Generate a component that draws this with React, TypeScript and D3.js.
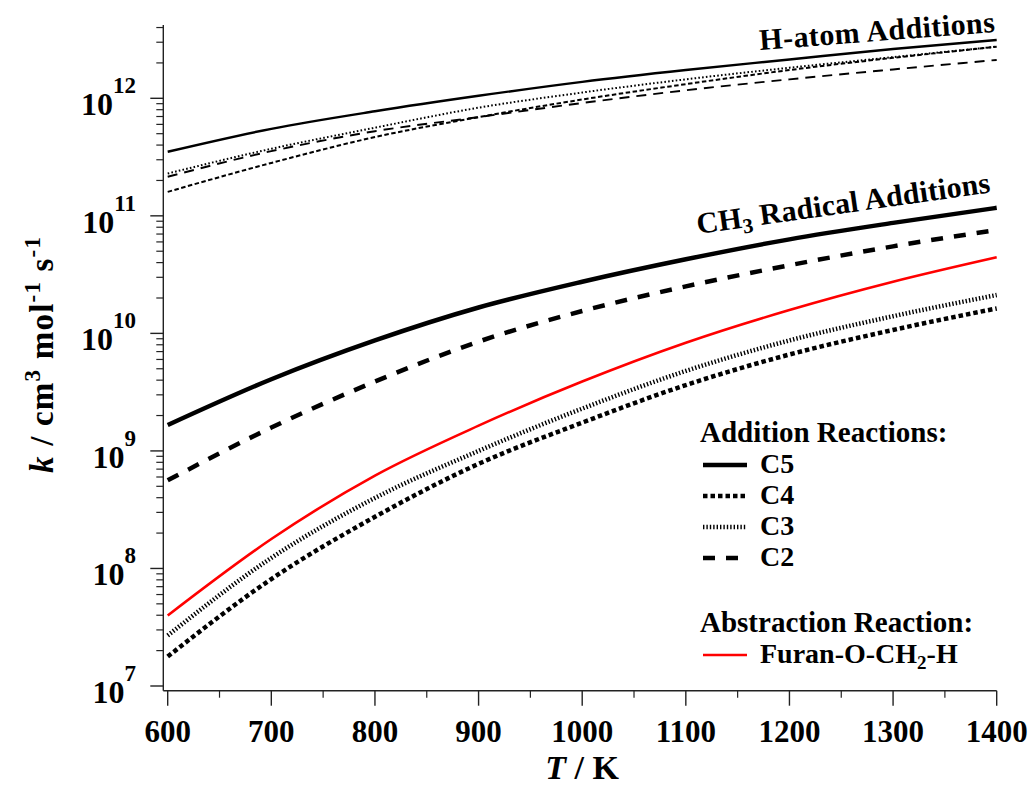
import React from "react";
import * as d3 from "d3";

// ---- data ----
const temps = [600, 700, 800, 900, 1000, 1100, 1200, 1300, 1400];

// H-atom additions
const hC5 = [3.51e11, 5.5e11, 7.76e11, 1.05e12, 1.38e12, 1.74e12, 2.14e12, 2.63e12, 3.13e12];
const hC4 = [1.6e11, 2.82e11, 4.68e11, 6.92e11, 9.77e11, 1.32e12, 1.74e12, 2.21e12, 2.75e12];
const hC3 = [2.29e11, 3.72e11, 5.62e11, 8.32e11, 1.12e12, 1.45e12, 1.82e12, 2.24e12, 2.75e12];
const hC2 = [2.15e11, 3.55e11, 5.25e11, 6.92e11, 9.12e11, 1.17e12, 1.45e12, 1.76e12, 2.12e12];

// CH3 radical additions
const mC5 = [1.66e9, 4.07e9, 8.71e9, 1.66e10, 2.75e10, 4.27e10, 6.31e10, 8.71e10, 1.17e11];
const mC4 = [1.78e7, 8.13e7, 2.75e8, 7.76e8, 1.74e9, 3.63e9, 6.61e9, 1.07e10, 1.63e10];
const mC3 = [2.69e7, 1.23e8, 3.98e8, 1.0e9, 2.29e9, 4.79e9, 8.71e9, 1.4e10, 2.12e10];
const mC2 = [5.62e8, 1.58e9, 3.89e9, 8.51e9, 1.55e10, 2.51e10, 3.8e10, 5.5e10, 7.59e10];

// Abstraction reaction
const abstraction = [3.98e7, 1.78e8, 6.17e8, 1.64e9, 3.89e9, 8.32e9, 1.58e10, 2.75e10, 4.44e10];

const xTicks = [600, 700, 800, 900, 1000, 1100, 1200, 1300, 1400];
const xMinorTicks = [650, 750, 850, 950, 1050, 1150, 1250, 1350];
const yDecades = [7, 8, 9, 10, 11, 12];
const yTopValue = 4.2e12;

const legendAddition = ["C5", "C4", "C3", "C2"];
const legendAbstraction = ["Furan-O-CH", "2", "-H"];

const FONT = "'Liberation Serif', 'Times New Roman', serif";

export default function App() {
  const x = d3.scaleLinear().domain([600, 1400]).range([167.7, 996.7]);
  const y = d3.scaleLog().domain([1e7, 1e12]).range([686, 98.3]);
  const axisX = 163.3;
  const axisY = 690.7;

  const line = d3
    .line<[number, number]>()
    .x((d) => x(d[0]))
    .y((d) => y(d[1]))
    .curve(d3.curveMonotoneX);
  const path = (vals: number[]) => line(temps.map((t, i) => [t, vals[i]] as [number, number])) || "";

  const minor: number[] = [];
  yDecades.forEach((d) => {
    for (let m = 2; m <= 9; m++) {
      const v = m * Math.pow(10, d);
      if (v <= yTopValue) minor.push(v);
    }
  });

  const thin = 2;
  const thick = 4.5;
  const styles = {
    hC5: { w: 2.4, dash: undefined },
    hC4: { w: thin, dash: "4.5,2.5" },
    hC3: { w: thin, dash: "1.6,2.2" },
    hC2: { w: 1.9, dash: "10,7" },
    mC5: { w: thick, dash: undefined },
    mC4: { w: thick, dash: "4.5,3" },
    mC3: { w: thick, dash: "1.4,2" },
    mC2: { w: thick, dash: "12,11" },
  };
  const legendStyles = [styles.mC5, styles.mC4, styles.mC3, styles.mC2];

  const series: [number[], { w: number; dash?: string }][] = [
    [hC2, styles.hC2],
    [hC4, styles.hC4],
    [hC3, styles.hC3],
    [hC5, styles.hC5],
    [mC2, styles.mC2],
    [mC4, styles.mC4],
    [mC3, styles.mC3],
    [mC5, styles.mC5],
  ];

  const legX = 700;
  const sampleX0 = 703;
  const sampleX1 = 747;
  const labelX = 760;

  return (
    <svg
      width={1034}
      height={788}
      style={{ position: "absolute", left: 0, top: 0, background: "#fff" }}
      fontFamily={FONT}
    >
      <rect x={0} y={0} width={1034} height={788} fill="#fff" />

      {/* axes */}
      <line x1={axisX} x2={axisX} y1={y(yTopValue)} y2={axisY} stroke="#222" strokeWidth={1.4} />
      <line x1={axisX} x2={x(1400)} y1={axisY} y2={axisY} stroke="#222" strokeWidth={1.4} />

      {yDecades.map((d) => (
        <line key={"yM" + d} x1={axisX - 13} x2={axisX} y1={y(Math.pow(10, d))} y2={y(Math.pow(10, d))} stroke="#222" strokeWidth={1.4} />
      ))}
      {minor.map((v, i) => (
        <line key={"ym" + i} x1={axisX - 7} x2={axisX} y1={y(v)} y2={y(v)} stroke="#222" strokeWidth={1.2} />
      ))}
      {xTicks.map((t) => (
        <line key={"xM" + t} x1={x(t)} x2={x(t)} y1={axisY} y2={axisY + 15} stroke="#222" strokeWidth={1.4} />
      ))}
      {xMinorTicks.map((t) => (
        <line key={"xm" + t} x1={x(t)} x2={x(t)} y1={axisY} y2={axisY + 7} stroke="#222" strokeWidth={1.2} />
      ))}

      {/* tick labels */}
      {xTicks.map((t) => (
        <text key={"xl" + t} x={x(t)} y={742} textAnchor="middle" fontSize={31} fontWeight="bold" fill="#000">
          {t}
        </text>
      ))}
      {yDecades.map((d) => (
        <text key={"yl" + d} x={136} y={y(Math.pow(10, d)) + 17} textAnchor="end" fontSize={32} fontWeight="bold" fill="#000">
          10
          <tspan dy={-22} fontSize={23}>
            {d}
          </tspan>
        </text>
      ))}

      {/* axis titles */}
      <text x={582} y={779} textAnchor="middle" fontSize={34} fontWeight="bold" fill="#000">
        <tspan fontStyle="italic">T</tspan>
        <tspan> / K</tspan>
      </text>
      <text
        transform={`translate(53,355) rotate(-90)`}
        textAnchor="middle"
        fontSize={33}
        fontWeight="bold"
        fill="#000"
        textLength={236}
      >
        <tspan fontStyle="italic">k</tspan>
        <tspan> / cm</tspan>
        <tspan dy={-13} fontSize={23}>3</tspan>
        <tspan dy={13}> mol</tspan>
        <tspan dy={-13} fontSize={23}>-1</tspan>
        <tspan dy={13}> s</tspan>
        <tspan dy={-13} fontSize={23}>-1</tspan>
      </text>

      {/* series */}
      {series.map(([vals, st], i) => (
        <path
          key={"s" + i}
          d={path(vals)}
          fill="none"
          stroke="#000"
          strokeWidth={st.w}
          strokeDasharray={st.dash}
        />
      ))}
      <path d={path(abstraction)} fill="none" stroke="#ff0000" strokeWidth={2.6} />

      {/* annotations */}
      <text
        transform={`translate(760,50) rotate(${(Math.atan2(-18, 235) * 180) / Math.PI})`}
        fontSize={30}
        fontWeight="bold"
        fill="#000"
        textLength={236}
      >
        H-atom Additions
      </text>
      <text
        transform={`translate(698,234) rotate(${(Math.atan2(-42, 295) * 180) / Math.PI})`}
        fontSize={30}
        fontWeight="bold"
        fill="#000"
        textLength={296}
      >
        CH
        <tspan dy={6} fontSize={21}>3</tspan>
        <tspan dy={-6}> Radical Additions</tspan>
      </text>

      {/* legend */}
      <text x={legX} y={442} fontSize={29} fontWeight="bold" fill="#000">
        Addition Reactions:
      </text>
      {legendAddition.map((lab, i) => {
        const cy = 465 + i * 31;
        const st = legendStyles[i];
        return (
          <g key={"lg" + i}>
            <line x1={sampleX0} x2={sampleX1} y1={cy} y2={cy} stroke="#000" strokeWidth={st.w} strokeDasharray={st.dash} />
            <text x={labelX} y={cy + 8} fontSize={28} fontWeight="bold" fill="#000">
              {lab}
            </text>
          </g>
        );
      })}
      <text x={legX} y={632} fontSize={29} fontWeight="bold" fill="#000">
        Abstraction Reaction:
      </text>
      <line x1={sampleX0} x2={sampleX1} y1={655} y2={655} stroke="#ff0000" strokeWidth={2.6} />
      <text x={labelX} y={663} fontSize={28} fontWeight="bold" fill="#000">
        {legendAbstraction[0]}
        <tspan dy={6} fontSize={19}>{legendAbstraction[1]}</tspan>
        <tspan dy={-6}>{legendAbstraction[2]}</tspan>
      </text>
    </svg>
  );
}
